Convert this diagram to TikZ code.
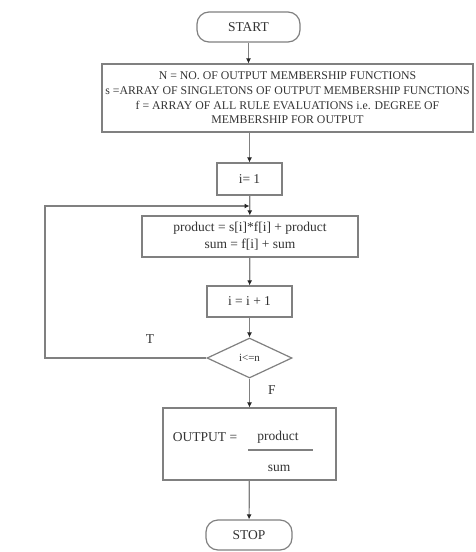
\documentclass[tikz,border=0pt]{standalone}
\usepackage{fontspec}
\setmainfont{Liberation Serif}
\usetikzlibrary{shapes.geometric,arrows.meta}

\begin{document}
\begin{tikzpicture}[x=1pt,y=-1pt,
  line width=1.2pt,
  every node/.style={text=black!80, font=\fontsize{13.5}{17}\selectfont},
  box/.style={draw=black!50, rectangle, inner sep=0pt, align=center},
  term/.style={box, rounded corners=12pt},
  arr/.style={draw=black!50, -{Latex[length=5pt,width=5pt,color=black!85]}}]
\useasboundingbox[fill=white] (0,0) rectangle (475,552);
% blocks:
\node[term, minimum width=103pt, minimum height=30pt] (start) at (248.5,27) {START};
\node[box, minimum width=371pt, minimum height=68pt,
  font=\fontsize{11.8}{14.6}\selectfont] (data) at (287.5,98)
  {N = NO. OF OUTPUT MEMBERSHIP FUNCTIONS\\
   s =ARRAY OF SINGLETONS OF OUTPUT MEMBERSHIP FUNCTIONS\\
   f = ARRAY OF ALL RULE EVALUATIONS i.e. DEGREE OF\\
   MEMBERSHIP FOR OUTPUT};
\node[box, minimum width=65pt, minimum height=32pt] (init) at (249.5,179) {i= 1};
\node[box, minimum width=216pt, minimum height=41pt] (acc) at (250,236.5)
  {product = s[i]*f[i] + product\\ sum = f[i] + sum};
\node[box, minimum width=85pt, minimum height=31pt] (inc) at (249.5,301.5) {i = i + 1};
\node[draw=black!50, diamond, inner sep=0pt, minimum width=85pt, minimum height=40pt,
  font=\fontsize{11}{13}\selectfont] (test) at (249.5,358) {i<=n};
\node[box, minimum width=173pt, minimum height=72pt] (out) at (249.5,444) {};
\node[term, minimum width=86pt, minimum height=30pt] (stop) at (249,535) {STOP};
% output formula:
\node (outlbl) at (205,437) {OUTPUT =};
\node (num) at (278,437) {product};
\node (den) at (279,468) {sum};
\draw[draw=black!50] (248,450) -- (313,450);
% labels:
\node (tlbl) at (150,339) {T};
\node (flbl) at (272,390) {F};
% arrows:
\draw[arr] (start) -- (start |- data.north);
\draw[arr] (init |- data.south) -- (init);
\draw[arr] (init) -- (acc);
\draw[arr] (acc) -- (inc);
\draw[arr] (inc) -- (test);
\draw[arr] (test) -- (out);
\draw[arr] (out) -- (stop);
% loop back:
\coordinate (corner) at (45,206);
\coordinate (join) at (249.5,206);
\draw[arr] (test.west) -| (corner) -- (join);
\end{tikzpicture}
\end{document}
